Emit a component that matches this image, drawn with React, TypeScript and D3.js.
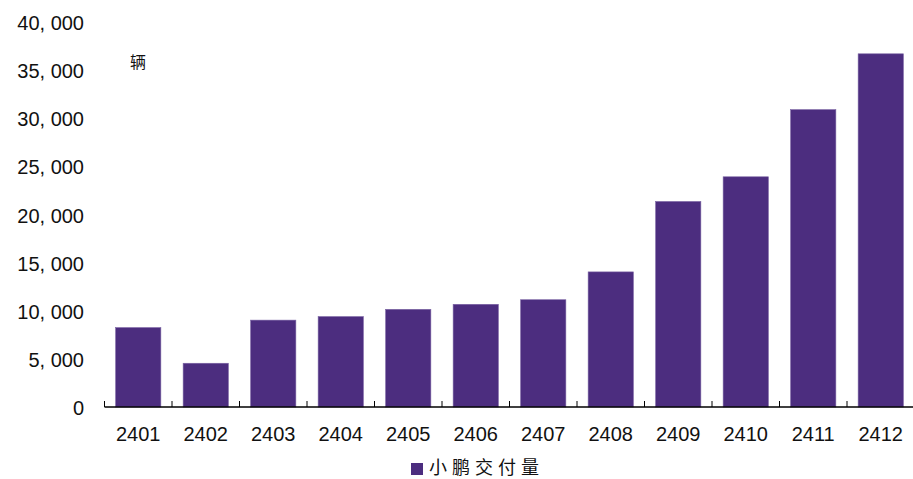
import React from "react";
import * as d3 from "d3";

// Monthly Xpeng deliveries, Jan–Dec 2024
const months = ["2401", "2402", "2403", "2404", "2405", "2406", "2407", "2408", "2409", "2410", "2411", "2412"];
const deliveries = [8250, 4545, 9026, 9393, 10146, 10668, 11145, 14036, 21352, 23917, 30895, 36695];
const yTicks = [0, 5000, 10000, 15000, 20000, 25000, 30000, 35000, 40000];
const seriesName = "小鹏交付量";
const unitLabel = "辆";

const W = 913;
const H = 479;
const BAR = "#4c2d7f";
const NUM_FONT = "'Liberation Sans', Arial, sans-serif";
const CJK_FONT = "'Noto Sans CJK SC', sans-serif";

const fmt = (v: number) => d3.format(",")(v).replace(/,/g, ", ");

export default function App() {
  const x = d3.scaleBand<string>().domain(months).range([104.5, 914.5]).paddingInner(0.33).paddingOuter(0.165);
  const y = d3.scaleLinear().domain([0, 40000]).range([407, 22]);
  const step = x.step();
  const x0 = x.range()[0];

  return (
    <svg width={W} height={H} style={{ position: "absolute", left: 0, top: 0, background: "#fff" }}>
      {/* bars */}
      {months.map((m, i) => (
        <rect
          key={m}
          x={x(m)}
          y={y(deliveries[i])}
          width={x.bandwidth()}
          height={y(0) - y(deliveries[i])}
          fill={BAR}
          stroke="#7a62a3"
          strokeWidth={0.6}
        />
      ))}

      {/* x axis */}
      <line x1={x0} x2={W} y1={y(0)} y2={y(0)} stroke="#000" strokeWidth={1.3} />
      {d3.range(months.length + 1).map((i) => (
        <line key={i} x1={x0 + i * step} x2={x0 + i * step} y1={y(0)} y2={y(0) - 6} stroke="#000" strokeWidth={1} />
      ))}
      {months.map((m) => (
        <text
          key={m}
          x={(x(m) as number) + x.bandwidth() / 2}
          y={434}
          textAnchor="middle"
          dominantBaseline="central"
          fontFamily={NUM_FONT}
          fontSize={20}
          fill="#111"
        >
          {m}
        </text>
      ))}

      {/* y tick labels */}
      {yTicks.map((t) => (
        <text
          key={t}
          x={84}
          y={y(t) + 1}
          textAnchor="end"
          dominantBaseline="central"
          fontFamily={NUM_FONT}
          fontSize={20}
          fill="#111"
        >
          {fmt(t)}
        </text>
      ))}

      {/* unit */}
      <text x={130} y={61} dominantBaseline="central" fontFamily={CJK_FONT} fontSize={16} fill="#111">
        {unitLabel}
      </text>

      {/* legend */}
      <rect x={411} y={463} width={12} height={12} fill={BAR} />
      <text
        x={429}
        y={466}
        dominantBaseline="central"
        fontFamily={CJK_FONT}
        fontSize={18}
        letterSpacing={5}
        fill="#111"
      >
        {seriesName}
      </text>
    </svg>
  );
}
